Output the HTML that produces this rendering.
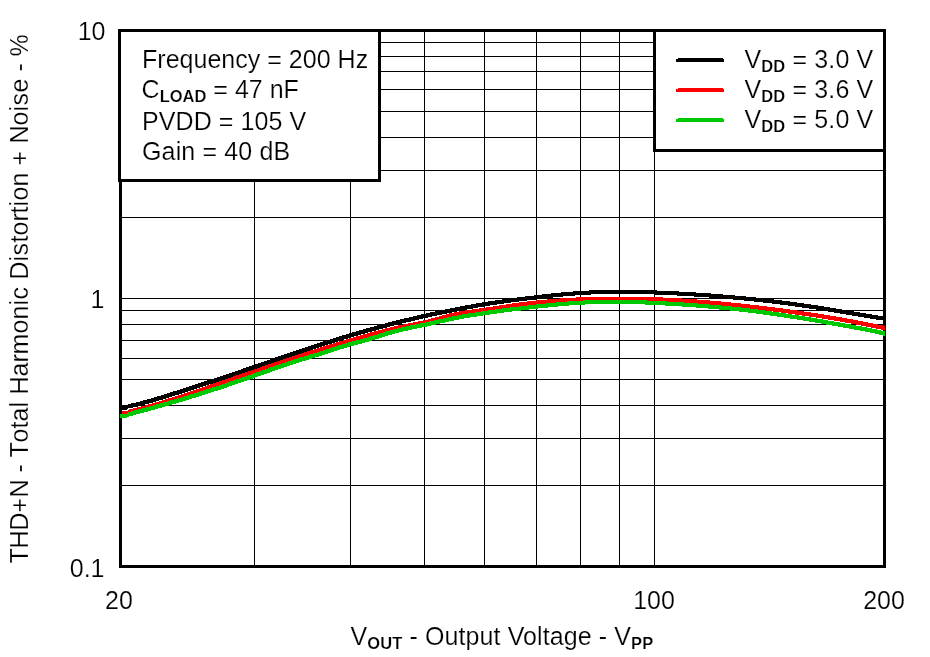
<!DOCTYPE html>
<html lang="en">
<head>
<meta charset="utf-8">
<title>THD+N vs Output Voltage</title>
<style>
html,body{margin:0;padding:0;background:#fff;}
body{width:930px;height:657px;overflow:hidden;}
svg{display:block;}
text{font-family:"Liberation Sans",Arial,Helvetica,sans-serif;font-size:25px;fill:#000;stroke:#fff;stroke-width:0.2px;}
.sub{font-weight:bold;font-size:16.5px;}
</style>
</head>
<body>
<svg width="930" height="657" viewBox="0 0 930 657">
<rect x="0" y="0" width="930" height="657" fill="#fff"/>
<g fill="#000" shape-rendering="crispEdges">
<rect x="254" y="31" width="1" height="535"/>
<rect x="350" y="31" width="1" height="535"/>
<rect x="424" y="31" width="1" height="535"/>
<rect x="484" y="31" width="1" height="535"/>
<rect x="536" y="31" width="1" height="535"/>
<rect x="580" y="31" width="1" height="535"/>
<rect x="619" y="31" width="1" height="535"/>
<rect x="654" y="31" width="1" height="535"/>
<rect x="121" y="42" width="763" height="1"/>
<rect x="121" y="56" width="763" height="1"/>
<rect x="121" y="71" width="763" height="1"/>
<rect x="121" y="89" width="763" height="1"/>
<rect x="121" y="111" width="763" height="1"/>
<rect x="121" y="137" width="763" height="1"/>
<rect x="121" y="170" width="763" height="1"/>
<rect x="121" y="217" width="763" height="1"/>
<rect x="121" y="298" width="763" height="1"/>
<rect x="121" y="310" width="763" height="1"/>
<rect x="121" y="324" width="763" height="1"/>
<rect x="121" y="340" width="763" height="1"/>
<rect x="121" y="358" width="763" height="1"/>
<rect x="121" y="379" width="763" height="1"/>
<rect x="121" y="405" width="763" height="1"/>
<rect x="121" y="438" width="763" height="1"/>
<rect x="121" y="485" width="763" height="1"/>
</g>
<rect x="120.5" y="30.5" width="764" height="536" fill="none" stroke="#000" stroke-width="3" shape-rendering="crispEdges"/>
<g stroke="none" shape-rendering="crispEdges">
<polygon fill="#000" points="120,404.93 121,404.93 122,404.93 123,404.93 124,404.93 125,404.93 126,404.93 127,404.93 128,404.17 129,403.97 130,403.76 131,403.54 132,403.32 133,403.10 134,402.87 135,402.64 136,402.40 137,402.16 138,401.92 139,401.67 140,401.41 141,401.16 142,400.90 143,400.63 144,400.37 145,400.10 146,399.82 147,399.55 148,399.27 149,398.99 150,398.70 151,398.41 152,398.12 153,397.83 154,397.54 155,397.24 156,396.94 157,396.64 158,396.34 159,396.03 160,395.73 161,395.42 162,395.11 163,394.80 164,394.48 165,394.17 166,393.86 167,393.54 168,393.22 169,392.91 170,392.59 171,392.27 172,391.95 173,391.63 174,391.31 175,390.99 176,390.67 177,390.35 178,390.03 179,389.71 180,389.39 181,389.07 182,388.75 183,388.43 184,388.11 185,387.79 186,387.46 187,387.14 188,386.82 189,386.50 190,386.18 191,385.85 192,385.53 193,385.21 194,384.89 195,384.56 196,384.24 197,383.92 198,383.59 199,383.27 200,382.94 201,382.62 202,382.29 203,381.97 204,381.64 205,381.32 206,380.99 207,380.66 208,380.34 209,380.01 210,379.68 211,379.35 212,379.03 213,378.70 214,378.37 215,378.04 216,377.71 217,377.38 218,377.05 219,376.72 220,376.39 221,376.06 222,375.72 223,375.39 224,375.06 225,374.73 226,374.39 227,374.06 228,373.72 229,373.39 230,373.05 231,372.72 232,372.38 233,372.05 234,371.71 235,371.37 236,371.03 237,370.69 238,370.35 239,370.02 240,369.68 241,369.34 242,368.99 243,368.65 244,368.31 245,367.97 246,367.63 247,367.29 248,366.94 249,366.60 250,366.26 251,365.92 252,365.57 253,365.23 254,364.89 255,364.54 256,364.20 257,363.85 258,363.51 259,363.17 260,362.82 261,362.48 262,362.13 263,361.79 264,361.44 265,361.10 266,360.75 267,360.41 268,360.06 269,359.72 270,359.37 271,359.03 272,358.69 273,358.34 274,358.00 275,357.65 276,357.31 277,356.97 278,356.62 279,356.28 280,355.94 281,355.59 282,355.25 283,354.91 284,354.57 285,354.22 286,353.88 287,353.54 288,353.20 289,352.86 290,352.52 291,352.18 292,351.84 293,351.50 294,351.16 295,350.82 296,350.49 297,350.15 298,349.81 299,349.48 300,349.14 301,348.80 302,348.47 303,348.13 304,347.80 305,347.47 306,347.13 307,346.80 308,346.47 309,346.14 310,345.81 311,345.48 312,345.15 313,344.82 314,344.50 315,344.17 316,343.84 317,343.52 318,343.19 319,342.87 320,342.55 321,342.23 322,341.90 323,341.58 324,341.26 325,340.94 326,340.63 327,340.31 328,339.99 329,339.68 330,339.36 331,339.05 332,338.73 333,338.42 334,338.11 335,337.80 336,337.49 337,337.18 338,336.87 339,336.57 340,336.26 341,335.95 342,335.65 343,335.34 344,335.04 345,334.74 346,334.44 347,334.14 348,333.84 349,333.54 350,333.24 351,332.94 352,332.65 353,332.35 354,332.06 355,331.77 356,331.47 357,331.18 358,330.89 359,330.60 360,330.31 361,330.03 362,329.74 363,329.45 364,329.17 365,328.89 366,328.60 367,328.32 368,328.04 369,327.76 370,327.48 371,327.20 372,326.93 373,326.65 374,326.38 375,326.10 376,325.83 377,325.56 378,325.28 379,325.01 380,324.75 381,324.48 382,324.21 383,323.94 384,323.68 385,323.42 386,323.15 387,322.89 388,322.63 389,322.37 390,322.11 391,321.85 392,321.60 393,321.34 394,321.09 395,320.84 396,320.58 397,320.33 398,320.08 399,319.83 400,319.58 401,319.34 402,319.09 403,318.85 404,318.60 405,318.36 406,318.12 407,317.88 408,317.64 409,317.40 410,317.16 411,316.93 412,316.69 413,316.45 414,316.22 415,315.99 416,315.76 417,315.53 418,315.30 419,315.07 420,314.84 421,314.61 422,314.39 423,314.16 424,313.94 425,313.71 426,313.49 427,313.27 428,313.05 429,312.83 430,312.61 431,312.39 432,312.18 433,311.96 434,311.75 435,311.53 436,311.32 437,311.11 438,310.89 439,310.68 440,310.47 441,310.26 442,310.06 443,309.85 444,309.64 445,309.44 446,309.23 447,309.03 448,308.82 449,308.62 450,308.42 451,308.22 452,308.02 453,307.82 454,307.62 455,307.43 456,307.23 457,307.03 458,306.84 459,306.65 460,306.46 461,306.27 462,306.08 463,305.89 464,305.70 465,305.51 466,305.33 467,305.14 468,304.96 469,304.78 470,304.60 471,304.42 472,304.24 473,304.06 474,303.89 475,303.71 476,303.54 477,303.37 478,303.20 479,303.03 480,302.86 481,302.69 482,302.53 483,302.37 484,302.20 485,302.04 486,301.88 487,301.73 488,301.57 489,301.41 490,301.26 491,301.11 492,300.96 493,300.81 494,300.66 495,300.51 496,300.36 497,300.22 498,300.07 499,299.93 500,299.79 501,299.65 502,299.51 503,299.37 504,299.23 505,299.10 506,298.96 507,298.83 508,298.69 509,298.56 510,298.43 511,298.29 512,298.16 513,298.03 514,297.91 515,297.78 516,297.65 517,297.52 518,297.40 519,297.27 520,297.15 521,297.02 522,296.90 523,296.78 524,296.66 525,296.53 526,296.41 527,296.29 528,296.17 529,296.05 530,295.93 531,295.82 532,295.70 533,295.58 534,295.46 535,295.34 536,295.23 537,295.11 538,295.00 539,294.88 540,294.76 541,294.65 542,294.54 543,294.42 544,294.31 545,294.20 546,294.09 547,293.97 548,293.86 549,293.76 550,293.65 551,293.54 552,293.43 553,293.33 554,293.22 555,293.12 556,293.02 557,292.92 558,292.82 559,292.72 560,292.62 561,292.53 562,292.43 563,292.34 564,292.25 565,292.16 566,292.07 567,291.98 568,291.90 569,291.81 570,291.73 571,291.65 572,291.57 573,291.49 574,291.42 575,291.35 576,291.27 577,291.21 578,291.14 579,291.07 580,291.01 581,290.95 582,290.89 583,290.83 584,290.77 585,290.72 586,290.66 587,290.61 588,290.56 589,290.51 590,290.47 591,290.42 592,290.38 593,290.34 594,290.30 595,290.26 596,290.23 597,290.19 598,290.16 599,290.13 600,290.10 601,290.07 602,290.04 603,290.02 604,289.99 605,289.97 606,289.95 607,289.93 608,289.91 609,289.90 610,289.88 611,289.87 612,289.86 613,289.84 614,289.84 615,289.83 616,289.82 617,289.82 618,289.81 619,289.81 620,289.81 621,289.81 622,289.81 623,289.81 624,289.81 625,289.81 626,289.82 627,289.82 628,289.83 629,289.84 630,289.84 631,289.85 632,289.87 633,289.88 634,289.89 635,289.91 636,289.92 637,289.94 638,289.96 639,289.98 640,290.00 641,290.02 642,290.04 643,290.06 644,290.09 645,290.11 646,290.14 647,290.17 648,290.20 649,290.23 650,290.26 651,290.29 652,290.32 653,290.36 654,290.39 655,290.43 656,290.46 657,290.50 658,290.54 659,290.57 660,290.61 661,290.65 662,290.70 663,290.74 664,290.78 665,290.82 666,290.87 667,290.91 668,290.96 669,291.01 670,291.05 671,291.10 672,291.15 673,291.20 674,291.25 675,291.30 676,291.35 677,291.41 678,291.46 679,291.51 680,291.57 681,291.62 682,291.68 683,291.73 684,291.79 685,291.84 686,291.90 687,291.96 688,292.02 689,292.08 690,292.14 691,292.20 692,292.26 693,292.32 694,292.38 695,292.45 696,292.51 697,292.57 698,292.64 699,292.70 700,292.77 701,292.84 702,292.90 703,292.97 704,293.04 705,293.11 706,293.18 707,293.25 708,293.32 709,293.39 710,293.46 711,293.54 712,293.61 713,293.69 714,293.76 715,293.84 716,293.91 717,293.99 718,294.07 719,294.14 720,294.22 721,294.30 722,294.38 723,294.46 724,294.55 725,294.63 726,294.71 727,294.79 728,294.88 729,294.96 730,295.05 731,295.14 732,295.22 733,295.31 734,295.40 735,295.49 736,295.58 737,295.67 738,295.76 739,295.85 740,295.94 741,296.04 742,296.13 743,296.23 744,296.32 745,296.42 746,296.51 747,296.61 748,296.71 749,296.81 750,296.91 751,297.01 752,297.11 753,297.21 754,297.32 755,297.42 756,297.52 757,297.63 758,297.74 759,297.84 760,297.95 761,298.06 762,298.17 763,298.28 764,298.39 765,298.50 766,298.61 767,298.72 768,298.84 769,298.95 770,299.07 771,299.18 772,299.30 773,299.42 774,299.53 775,299.65 776,299.77 777,299.89 778,300.01 779,300.14 780,300.26 781,300.38 782,300.51 783,300.63 784,300.76 785,300.89 786,301.01 787,301.14 788,301.27 789,301.40 790,301.53 791,301.66 792,301.80 793,301.93 794,302.07 795,302.20 796,302.34 797,302.47 798,302.61 799,302.75 800,302.89 801,303.03 802,303.17 803,303.31 804,303.45 805,303.60 806,303.74 807,303.88 808,304.03 809,304.18 810,304.32 811,304.47 812,304.62 813,304.77 814,304.92 815,305.07 816,305.23 817,305.38 818,305.53 819,305.69 820,305.84 821,306.00 822,306.16 823,306.32 824,306.48 825,306.64 826,306.80 827,306.96 828,307.12 829,307.29 830,307.45 831,307.62 832,307.78 833,307.95 834,308.12 835,308.29 836,308.45 837,308.62 838,308.79 839,308.96 840,309.13 841,309.31 842,309.48 843,309.65 844,309.82 845,309.99 846,310.17 847,310.34 848,310.51 849,310.68 850,310.86 851,311.03 852,311.20 853,311.37 854,311.54 855,311.72 856,311.89 857,312.06 858,312.23 859,312.40 860,312.57 861,312.74 862,312.91 863,313.07 864,313.24 865,313.41 866,313.57 867,313.74 868,313.90 869,314.07 870,314.23 871,314.39 872,314.55 873,314.71 874,314.87 875,315.03 876,315.18 877,315.34 878,315.49 879,315.64 880,315.79 881,315.94 882,316.09 883,316.24 884,316.38 885,316.52 885,320.80 884,320.67 883,320.52 882,320.38 881,320.24 880,320.09 879,319.94 878,319.79 877,319.64 876,319.49 875,319.34 874,319.18 873,319.03 872,318.87 871,318.71 870,318.55 869,318.39 868,318.23 867,318.07 866,317.90 865,317.74 864,317.57 863,317.41 862,317.24 861,317.07 860,316.91 859,316.74 858,316.57 857,316.40 856,316.23 855,316.06 854,315.89 853,315.72 852,315.54 851,315.37 850,315.20 849,315.03 848,314.86 847,314.68 846,314.51 845,314.34 844,314.17 843,313.99 842,313.82 841,313.65 840,313.48 839,313.31 838,313.13 837,312.96 836,312.79 835,312.62 834,312.45 833,312.29 832,312.12 831,311.95 830,311.78 829,311.62 828,311.45 827,311.29 826,311.12 825,310.96 824,310.80 823,310.64 822,310.48 821,310.32 820,310.16 819,310.00 818,309.84 817,309.69 816,309.53 815,309.38 814,309.23 813,309.07 812,308.92 811,308.77 810,308.62 809,308.47 808,308.32 807,308.18 806,308.03 805,307.88 804,307.74 803,307.60 802,307.45 801,307.31 800,307.17 799,307.03 798,306.89 797,306.75 796,306.61 795,306.47 794,306.34 793,306.20 792,306.07 791,305.93 790,305.80 789,305.66 788,305.53 787,305.40 786,305.27 785,305.14 784,305.01 783,304.89 782,304.76 781,304.63 780,304.51 779,304.38 778,304.26 777,304.14 776,304.01 775,303.89 774,303.77 773,303.65 772,303.53 771,303.42 770,303.30 769,303.18 768,303.07 767,302.95 766,302.84 765,302.72 764,302.61 763,302.50 762,302.39 761,302.28 760,302.17 759,302.06 758,301.95 757,301.84 756,301.74 755,301.63 754,301.52 753,301.42 752,301.32 751,301.21 750,301.11 749,301.01 748,300.91 747,300.81 746,300.71 745,300.61 744,300.51 743,300.42 742,300.32 741,300.23 740,300.13 739,300.04 738,299.94 737,299.85 736,299.76 735,299.67 734,299.58 733,299.49 732,299.40 731,299.31 730,299.22 729,299.14 728,299.05 727,298.96 726,298.88 725,298.79 724,298.71 723,298.63 722,298.55 721,298.46 720,298.38 719,298.30 718,298.22 717,298.14 716,298.07 715,297.99 714,297.91 713,297.84 712,297.76 711,297.69 710,297.61 709,297.54 708,297.46 707,297.39 706,297.32 705,297.25 704,297.18 703,297.11 702,297.04 701,296.97 700,296.90 699,296.84 698,296.77 697,296.70 696,296.64 695,296.57 694,296.51 693,296.45 692,296.38 691,296.32 690,296.26 689,296.20 688,296.14 687,296.08 686,296.02 685,295.96 684,295.90 683,295.84 682,295.79 681,295.73 680,295.68 679,295.62 678,295.57 677,295.51 676,295.46 675,295.41 674,295.35 673,295.30 672,295.25 671,295.20 670,295.15 669,295.10 668,295.05 667,295.01 666,294.96 665,294.91 664,294.87 663,294.82 662,294.78 661,294.74 660,294.70 659,294.65 658,294.61 657,294.57 656,294.54 655,294.50 654,294.46 653,294.43 652,294.39 651,294.36 650,294.32 649,294.29 648,294.26 647,294.23 646,294.20 645,294.17 644,294.14 643,294.11 642,294.09 641,294.06 640,294.04 639,294.02 638,294.00 637,293.98 636,293.96 635,293.94 634,293.92 633,293.91 632,293.89 631,293.88 630,293.87 629,293.85 628,293.84 627,293.84 626,293.83 625,293.82 624,293.82 623,293.81 622,293.81 621,293.81 620,293.81 619,293.82 618,293.82 617,293.83 616,293.84 615,293.84 614,293.86 613,293.87 612,293.88 611,293.90 610,293.91 609,293.93 608,293.95 607,293.97 606,293.99 605,294.02 604,294.04 603,294.07 602,294.10 601,294.13 600,294.16 599,294.19 598,294.23 597,294.26 596,294.30 595,294.34 594,294.38 593,294.42 592,294.47 591,294.51 590,294.56 589,294.61 588,294.66 587,294.72 586,294.77 585,294.83 584,294.89 583,294.95 582,295.01 581,295.07 580,295.14 579,295.21 578,295.27 577,295.35 576,295.42 575,295.49 574,295.57 573,295.65 572,295.73 571,295.81 570,295.90 569,295.98 568,296.07 567,296.16 566,296.25 565,296.34 564,296.43 563,296.53 562,296.62 561,296.72 560,296.82 559,296.92 558,297.02 557,297.12 556,297.22 555,297.33 554,297.43 553,297.54 552,297.65 551,297.76 550,297.86 549,297.97 548,298.08 547,298.20 546,298.31 545,298.42 544,298.54 543,298.65 542,298.76 541,298.88 540,299.00 539,299.11 538,299.23 537,299.34 536,299.46 535,299.58 534,299.70 533,299.82 532,299.93 531,300.05 530,300.17 529,300.29 528,300.41 527,300.53 526,300.66 525,300.78 524,300.90 523,301.02 522,301.15 521,301.27 520,301.40 519,301.52 518,301.65 517,301.78 516,301.91 515,302.03 514,302.16 513,302.29 512,302.43 511,302.56 510,302.69 509,302.83 508,302.96 507,303.10 506,303.23 505,303.37 504,303.51 503,303.65 502,303.79 501,303.93 500,304.07 499,304.22 498,304.36 497,304.51 496,304.66 495,304.81 494,304.96 493,305.11 492,305.26 491,305.41 490,305.57 489,305.73 488,305.88 487,306.04 486,306.20 485,306.37 484,306.53 483,306.69 482,306.86 481,307.03 480,307.20 479,307.37 478,307.54 477,307.71 476,307.89 475,308.06 474,308.24 473,308.42 472,308.60 471,308.78 470,308.96 469,309.14 468,309.33 467,309.51 466,309.70 465,309.89 464,310.08 463,310.27 462,310.46 461,310.65 460,310.84 459,311.03 458,311.23 457,311.43 456,311.62 455,311.82 454,312.02 453,312.22 452,312.42 451,312.62 450,312.82 449,313.03 448,313.23 447,313.44 446,313.64 445,313.85 444,314.06 443,314.26 442,314.47 441,314.68 440,314.89 439,315.11 438,315.32 437,315.53 436,315.75 435,315.96 434,316.18 433,316.39 432,316.61 431,316.83 430,317.05 429,317.27 428,317.49 427,317.71 426,317.94 425,318.16 424,318.39 423,318.61 422,318.84 421,319.07 420,319.30 419,319.53 418,319.76 417,319.99 416,320.22 415,320.45 414,320.69 413,320.93 412,321.16 411,321.40 410,321.64 409,321.88 408,322.12 407,322.36 406,322.60 405,322.85 404,323.09 403,323.34 402,323.58 401,323.83 400,324.08 399,324.33 398,324.58 397,324.84 396,325.09 395,325.34 394,325.60 393,325.85 392,326.11 391,326.37 390,326.63 389,326.89 388,327.15 387,327.42 386,327.68 385,327.94 384,328.21 383,328.48 382,328.75 381,329.01 380,329.28 379,329.56 378,329.83 377,330.10 376,330.38 375,330.65 374,330.93 373,331.20 372,331.48 371,331.76 370,332.04 369,332.32 368,332.60 367,332.89 366,333.17 365,333.45 364,333.74 363,334.03 362,334.31 361,334.60 360,334.89 359,335.18 358,335.47 357,335.77 356,336.06 355,336.35 354,336.65 353,336.94 352,337.24 351,337.54 350,337.84 349,338.14 348,338.44 347,338.74 346,339.04 345,339.34 344,339.65 343,339.95 342,340.26 341,340.57 340,340.87 339,341.18 338,341.49 337,341.80 336,342.11 335,342.42 334,342.73 333,343.05 332,343.36 331,343.68 330,343.99 329,344.31 328,344.63 327,344.94 326,345.26 325,345.58 324,345.90 323,346.23 322,346.55 321,346.87 320,347.19 319,347.52 318,347.84 317,348.17 316,348.50 315,348.82 314,349.15 313,349.48 312,349.81 311,350.14 310,350.47 309,350.80 308,351.13 307,351.47 306,351.80 305,352.13 304,352.47 303,352.80 302,353.14 301,353.48 300,353.81 299,354.15 298,354.49 297,354.82 296,355.16 295,355.50 294,355.84 293,356.18 292,356.52 291,356.86 290,357.20 289,357.54 288,357.88 287,358.22 286,358.57 285,358.91 284,359.25 283,359.59 282,359.94 281,360.28 280,360.62 279,360.97 278,361.31 277,361.65 276,362.00 275,362.34 274,362.69 273,363.03 272,363.37 271,363.72 270,364.06 269,364.41 268,364.75 267,365.10 266,365.44 265,365.79 264,366.13 263,366.48 262,366.82 261,367.17 260,367.51 259,367.85 258,368.20 257,368.54 256,368.89 255,369.23 254,369.57 253,369.92 252,370.26 251,370.60 250,370.94 249,371.29 248,371.63 247,371.97 246,372.31 245,372.65 244,372.99 243,373.34 242,373.68 241,374.01 240,374.35 239,374.69 238,375.03 237,375.37 236,375.71 235,376.05 234,376.38 233,376.72 232,377.05 231,377.39 230,377.72 229,378.06 228,378.39 227,378.73 226,379.06 225,379.39 224,379.72 223,380.06 222,380.39 221,380.72 220,381.05 219,381.38 218,381.71 217,382.04 216,382.37 215,382.70 214,383.03 213,383.35 212,383.68 211,384.01 210,384.34 209,384.66 208,384.99 207,385.32 206,385.64 205,385.97 204,386.29 203,386.62 202,386.94 201,387.27 200,387.59 199,387.92 198,388.24 197,388.56 196,388.89 195,389.21 194,389.53 193,389.85 192,390.18 191,390.50 190,390.82 189,391.14 188,391.46 187,391.79 186,392.11 185,392.43 184,392.75 183,393.07 182,393.39 181,393.71 180,394.03 179,394.35 178,394.67 177,394.99 176,395.31 175,395.63 174,395.95 173,396.27 172,396.59 171,396.91 170,397.22 169,397.54 168,397.86 167,398.17 166,398.48 165,398.80 164,399.11 163,399.42 162,399.73 161,400.03 160,400.34 159,400.64 158,400.94 157,401.24 156,401.54 155,401.83 154,402.12 153,402.41 152,402.70 151,402.99 150,403.27 149,403.55 148,403.82 147,404.10 146,404.37 145,404.63 144,404.90 143,405.16 142,405.41 141,405.67 140,405.92 139,406.16 138,406.40 137,406.64 136,406.87 135,407.10 134,407.32 133,407.54 132,407.76 131,407.97 130,408.17 129,408.37 128,408.57 127,409.83 126,409.83 125,409.83 124,409.83 123,409.83 122,409.83 121,409.83 120,409.83"/>
<polygon fill="#f00" points="122,411.34 123,411.34 124,411.34 125,411.34 126,411.34 127,411.34 128,409.82 129,409.58 130,409.33 131,409.09 132,408.84 133,408.59 134,408.34 135,408.08 136,407.82 137,407.56 138,407.30 139,407.04 140,406.77 141,406.51 142,406.24 143,405.96 144,405.69 145,405.42 146,405.14 147,404.86 148,404.58 149,404.30 150,404.01 151,403.72 152,403.44 153,403.15 154,402.86 155,402.56 156,402.27 157,401.97 158,401.67 159,401.37 160,401.07 161,400.77 162,400.47 163,400.16 164,399.86 165,399.55 166,399.24 167,398.93 168,398.62 169,398.30 170,397.99 171,397.67 172,397.35 173,397.04 174,396.72 175,396.40 176,396.07 177,395.75 178,395.43 179,395.10 180,394.78 181,394.45 182,394.12 183,393.79 184,393.46 185,393.13 186,392.80 187,392.47 188,392.13 189,391.80 190,391.46 191,391.13 192,390.79 193,390.45 194,390.12 195,389.78 196,389.44 197,389.10 198,388.76 199,388.42 200,388.07 201,387.73 202,387.39 203,387.05 204,386.70 205,386.36 206,386.02 207,385.67 208,385.33 209,384.98 210,384.64 211,384.29 212,383.94 213,383.60 214,383.25 215,382.91 216,382.56 217,382.21 218,381.87 219,381.52 220,381.17 221,380.82 222,380.48 223,380.13 224,379.78 225,379.44 226,379.09 227,378.74 228,378.40 229,378.05 230,377.70 231,377.36 232,377.01 233,376.66 234,376.32 235,375.97 236,375.62 237,375.28 238,374.93 239,374.58 240,374.24 241,373.89 242,373.55 243,373.20 244,372.86 245,372.51 246,372.16 247,371.82 248,371.47 249,371.13 250,370.78 251,370.44 252,370.10 253,369.75 254,369.41 255,369.06 256,368.72 257,368.38 258,368.03 259,367.69 260,367.35 261,367.01 262,366.66 263,366.32 264,365.98 265,365.64 266,365.30 267,364.96 268,364.62 269,364.28 270,363.94 271,363.60 272,363.26 273,362.92 274,362.58 275,362.24 276,361.91 277,361.57 278,361.23 279,360.89 280,360.56 281,360.22 282,359.89 283,359.55 284,359.22 285,358.88 286,358.55 287,358.21 288,357.88 289,357.55 290,357.21 291,356.88 292,356.55 293,356.22 294,355.89 295,355.56 296,355.23 297,354.90 298,354.57 299,354.24 300,353.91 301,353.59 302,353.26 303,352.93 304,352.61 305,352.28 306,351.96 307,351.63 308,351.31 309,350.99 310,350.66 311,350.34 312,350.02 313,349.70 314,349.38 315,349.06 316,348.74 317,348.42 318,348.11 319,347.79 320,347.47 321,347.16 322,346.84 323,346.53 324,346.21 325,345.90 326,345.59 327,345.27 328,344.96 329,344.65 330,344.34 331,344.03 332,343.72 333,343.42 334,343.11 335,342.80 336,342.50 337,342.19 338,341.89 339,341.58 340,341.28 341,340.98 342,340.68 343,340.38 344,340.08 345,339.78 346,339.48 347,339.19 348,338.89 349,338.59 350,338.30 351,338.00 352,337.71 353,337.42 354,337.13 355,336.84 356,336.55 357,336.26 358,335.97 359,335.68 360,335.40 361,335.11 362,334.83 363,334.54 364,334.26 365,333.98 366,333.70 367,333.42 368,333.14 369,332.86 370,332.59 371,332.31 372,332.04 373,331.77 374,331.50 375,331.23 376,330.96 377,330.69 378,330.43 379,330.17 380,329.90 381,329.65 382,329.39 383,329.13 384,328.88 385,328.62 386,328.37 387,328.13 388,327.88 389,327.64 390,327.39 391,327.15 392,326.92 393,326.68 394,326.45 395,326.22 396,325.99 397,325.76 398,325.54 399,325.32 400,325.10 401,324.89 402,324.67 403,324.46 404,324.26 405,324.05 406,323.85 407,323.65 408,323.45 409,323.26 410,323.07 411,322.88 412,322.69 413,322.51 414,322.32 415,322.13 416,321.94 417,321.75 418,321.56 419,321.37 420,321.17 421,320.97 422,320.76 423,320.55 424,320.33 425,320.11 426,319.88 427,319.64 428,319.40 429,319.15 430,318.89 431,318.63 432,318.36 433,318.08 434,317.81 435,317.52 436,317.24 437,316.95 438,316.67 439,316.38 440,316.09 441,315.81 442,315.52 443,315.24 444,314.96 445,314.68 446,314.41 447,314.14 448,313.88 449,313.62 450,313.37 451,313.13 452,312.90 453,312.67 454,312.46 455,312.25 456,312.06 457,311.86 458,311.68 459,311.50 460,311.33 461,311.17 462,311.01 463,310.85 464,310.70 465,310.55 466,310.40 467,310.26 468,310.12 469,309.98 470,309.84 471,309.71 472,309.57 473,309.43 474,309.29 475,309.15 476,309.01 477,308.86 478,308.72 479,308.57 480,308.42 481,308.28 482,308.13 483,307.98 484,307.83 485,307.67 486,307.52 487,307.37 488,307.21 489,307.06 490,306.91 491,306.75 492,306.59 493,306.44 494,306.28 495,306.13 496,305.97 497,305.82 498,305.66 499,305.51 500,305.35 501,305.20 502,305.04 503,304.89 504,304.74 505,304.58 506,304.43 507,304.28 508,304.13 509,303.98 510,303.84 511,303.69 512,303.54 513,303.40 514,303.26 515,303.11 516,302.97 517,302.83 518,302.70 519,302.56 520,302.43 521,302.30 522,302.17 523,302.04 524,301.91 525,301.79 526,301.66 527,301.54 528,301.42 529,301.31 530,301.19 531,301.08 532,300.97 533,300.85 534,300.75 535,300.64 536,300.53 537,300.43 538,300.33 539,300.23 540,300.13 541,300.03 542,299.93 543,299.84 544,299.75 545,299.66 546,299.57 547,299.48 548,299.39 549,299.31 550,299.22 551,299.14 552,299.06 553,298.98 554,298.90 555,298.83 556,298.75 557,298.68 558,298.61 559,298.54 560,298.47 561,298.40 562,298.33 563,298.27 564,298.20 565,298.14 566,298.08 567,298.02 568,297.96 569,297.90 570,297.84 571,297.79 572,297.73 573,297.68 574,297.63 575,297.58 576,297.53 577,297.48 578,297.43 579,297.39 580,297.34 581,297.30 582,297.26 583,297.22 584,297.18 585,297.14 586,297.10 587,297.07 588,297.03 589,297.00 590,296.97 591,296.94 592,296.91 593,296.88 594,296.85 595,296.82 596,296.80 597,296.77 598,296.75 599,296.73 600,296.71 601,296.69 602,296.67 603,296.65 604,296.64 605,296.62 606,296.61 607,296.60 608,296.59 609,296.58 610,296.57 611,296.56 612,296.55 613,296.54 614,296.54 615,296.54 616,296.53 617,296.53 618,296.53 619,296.53 620,296.53 621,296.53 622,296.53 623,296.54 624,296.54 625,296.55 626,296.55 627,296.56 628,296.57 629,296.58 630,296.59 631,296.60 632,296.61 633,296.62 634,296.64 635,296.65 636,296.67 637,296.69 638,296.71 639,296.73 640,296.75 641,296.77 642,296.79 643,296.82 644,296.84 645,296.87 646,296.89 647,296.92 648,296.95 649,296.98 650,297.01 651,297.04 652,297.07 653,297.11 654,297.14 655,297.18 656,297.21 657,297.25 658,297.29 659,297.33 660,297.37 661,297.41 662,297.45 663,297.50 664,297.54 665,297.59 666,297.63 667,297.68 668,297.73 669,297.78 670,297.83 671,297.88 672,297.93 673,297.98 674,298.04 675,298.09 676,298.14 677,298.20 678,298.26 679,298.32 680,298.37 681,298.43 682,298.49 683,298.56 684,298.62 685,298.68 686,298.75 687,298.81 688,298.88 689,298.94 690,299.01 691,299.08 692,299.15 693,299.22 694,299.29 695,299.36 696,299.43 697,299.51 698,299.58 699,299.66 700,299.73 701,299.81 702,299.88 703,299.96 704,300.04 705,300.12 706,300.20 707,300.28 708,300.37 709,300.45 710,300.53 711,300.62 712,300.70 713,300.79 714,300.88 715,300.96 716,301.05 717,301.14 718,301.23 719,301.32 720,301.41 721,301.50 722,301.60 723,301.69 724,301.78 725,301.88 726,301.98 727,302.07 728,302.17 729,302.27 730,302.37 731,302.47 732,302.57 733,302.67 734,302.77 735,302.87 736,302.97 737,303.08 738,303.18 739,303.29 740,303.39 741,303.50 742,303.60 743,303.71 744,303.82 745,303.93 746,304.04 747,304.15 748,304.26 749,304.37 750,304.48 751,304.60 752,304.71 753,304.82 754,304.94 755,305.05 756,305.17 757,305.29 758,305.40 759,305.52 760,305.64 761,305.76 762,305.88 763,306.00 764,306.12 765,306.24 766,306.36 767,306.49 768,306.61 769,306.73 770,306.86 771,306.98 772,307.11 773,307.23 774,307.36 775,307.49 776,307.61 777,307.74 778,307.87 779,308.00 780,308.13 781,308.26 782,308.39 783,308.53 784,308.66 785,308.79 786,308.93 787,309.06 788,309.20 789,309.33 790,309.47 791,309.61 792,309.74 793,309.88 794,310.02 795,310.16 796,310.30 797,310.44 798,310.59 799,310.73 800,310.87 801,311.02 802,311.16 803,311.31 804,311.45 805,311.60 806,311.75 807,311.89 808,312.04 809,312.19 810,312.34 811,312.49 812,312.65 813,312.80 814,312.95 815,313.11 816,313.26 817,313.42 818,313.57 819,313.73 820,313.89 821,314.05 822,314.20 823,314.36 824,314.53 825,314.69 826,314.85 827,315.01 828,315.18 829,315.34 830,315.51 831,315.67 832,315.84 833,316.01 834,316.18 835,316.34 836,316.52 837,316.69 838,316.86 839,317.03 840,317.20 841,317.38 842,317.55 843,317.73 844,317.91 845,318.08 846,318.26 847,318.44 848,318.62 849,318.80 850,318.99 851,319.17 852,319.35 853,319.54 854,319.72 855,319.91 856,320.09 857,320.28 858,320.47 859,320.66 860,320.85 861,321.04 862,321.24 863,321.43 864,321.62 865,321.82 866,322.02 867,322.21 868,322.41 869,322.61 870,322.81 871,323.01 872,323.21 873,323.41 874,323.62 875,323.82 876,324.03 877,324.23 878,324.44 879,324.65 880,324.86 881,325.07 882,325.28 883,325.49 884,325.71 885,325.92 885,330.35 884,330.14 883,329.92 882,329.71 881,329.49 880,329.28 879,329.07 878,328.86 877,328.65 876,328.44 875,328.23 874,328.03 873,327.82 872,327.62 871,327.41 870,327.21 869,327.01 868,326.81 867,326.61 866,326.41 865,326.21 864,326.02 863,325.82 862,325.62 861,325.43 860,325.24 859,325.04 858,324.85 857,324.66 856,324.47 855,324.28 854,324.09 853,323.91 852,323.72 851,323.54 850,323.35 849,323.17 848,322.99 847,322.80 846,322.62 845,322.44 844,322.26 843,322.08 842,321.91 841,321.73 840,321.55 839,321.38 838,321.20 837,321.03 836,320.86 835,320.69 834,320.52 833,320.34 832,320.18 831,320.01 830,319.84 829,319.67 828,319.51 827,319.34 826,319.18 825,319.01 824,318.85 823,318.69 822,318.53 821,318.36 820,318.20 819,318.05 818,317.89 817,317.73 816,317.57 815,317.42 814,317.26 813,317.11 812,316.95 811,316.80 810,316.65 809,316.49 808,316.34 807,316.19 806,316.04 805,315.89 804,315.75 803,315.60 802,315.45 801,315.31 800,315.16 799,315.02 798,314.87 797,314.73 796,314.59 795,314.44 794,314.30 793,314.16 792,314.02 791,313.88 790,313.74 789,313.61 788,313.47 787,313.33 786,313.20 785,313.06 784,312.93 783,312.79 782,312.66 781,312.53 780,312.39 779,312.26 778,312.13 777,312.00 776,311.87 775,311.74 774,311.61 773,311.49 772,311.36 771,311.23 770,311.11 769,310.98 768,310.86 767,310.73 766,310.61 765,310.49 764,310.36 763,310.24 762,310.12 761,310.00 760,309.88 759,309.76 758,309.64 757,309.52 756,309.40 755,309.29 754,309.17 753,309.05 752,308.94 751,308.82 750,308.71 749,308.60 748,308.48 747,308.37 746,308.26 745,308.15 744,308.04 743,307.93 742,307.82 741,307.71 740,307.60 739,307.50 738,307.39 737,307.29 736,307.18 735,307.08 734,306.97 733,306.87 732,306.77 731,306.67 730,306.57 729,306.47 728,306.37 727,306.27 726,306.17 725,306.07 724,305.98 723,305.88 722,305.78 721,305.69 720,305.60 719,305.50 718,305.41 717,305.32 716,305.23 715,305.14 714,305.05 713,304.96 712,304.88 711,304.79 710,304.70 709,304.62 708,304.53 707,304.45 706,304.37 705,304.28 704,304.20 703,304.12 702,304.04 701,303.96 700,303.88 699,303.81 698,303.73 697,303.66 696,303.58 695,303.51 694,303.43 693,303.36 692,303.29 691,303.22 690,303.15 689,303.08 688,303.01 687,302.94 686,302.88 685,302.81 684,302.75 683,302.68 682,302.62 681,302.56 680,302.49 679,302.43 678,302.37 677,302.32 676,302.26 675,302.20 674,302.14 673,302.09 672,302.04 671,301.98 670,301.93 669,301.88 668,301.83 667,301.78 666,301.73 665,301.68 664,301.63 663,301.59 662,301.54 661,301.50 660,301.45 659,301.41 658,301.37 657,301.33 656,301.29 655,301.25 654,301.21 653,301.18 652,301.14 651,301.11 650,301.07 649,301.04 648,301.01 647,300.98 646,300.95 645,300.92 644,300.89 643,300.87 642,300.84 641,300.82 640,300.79 639,300.77 638,300.75 637,300.73 636,300.71 635,300.69 634,300.67 633,300.65 632,300.64 631,300.62 630,300.61 629,300.60 628,300.59 627,300.58 626,300.57 625,300.56 624,300.55 623,300.55 622,300.54 621,300.54 620,300.53 619,300.53 618,300.53 617,300.54 616,300.54 615,300.54 614,300.55 613,300.56 612,300.57 611,300.58 610,300.59 609,300.60 608,300.61 607,300.62 606,300.64 605,300.65 604,300.67 603,300.69 602,300.71 601,300.73 600,300.75 599,300.77 598,300.80 597,300.82 596,300.85 595,300.88 594,300.91 593,300.94 592,300.97 591,301.00 590,301.03 589,301.07 588,301.10 587,301.14 586,301.18 585,301.22 584,301.26 583,301.30 582,301.34 581,301.39 580,301.43 579,301.48 578,301.53 577,301.58 576,301.63 575,301.68 574,301.73 573,301.79 572,301.84 571,301.90 570,301.96 569,302.02 568,302.08 567,302.14 566,302.20 565,302.27 564,302.33 563,302.40 562,302.47 561,302.54 560,302.61 559,302.68 558,302.75 557,302.83 556,302.90 555,302.98 554,303.06 553,303.14 552,303.22 551,303.31 550,303.39 549,303.48 548,303.57 547,303.66 546,303.75 545,303.84 544,303.93 543,304.03 542,304.13 541,304.23 540,304.33 539,304.43 538,304.53 537,304.64 536,304.75 535,304.85 534,304.97 533,305.08 532,305.19 531,305.31 530,305.42 529,305.54 528,305.66 527,305.79 526,305.91 525,306.04 524,306.17 523,306.30 522,306.43 521,306.56 520,306.70 519,306.83 518,306.97 517,307.11 516,307.26 515,307.40 514,307.54 513,307.69 512,307.84 511,307.98 510,308.13 509,308.28 508,308.43 507,308.58 506,308.74 505,308.89 504,309.04 503,309.20 502,309.35 501,309.51 500,309.66 499,309.82 498,309.97 497,310.13 496,310.28 495,310.44 494,310.59 493,310.75 492,310.91 491,311.06 490,311.21 489,311.37 488,311.52 487,311.67 486,311.83 485,311.98 484,312.13 483,312.28 482,312.42 481,312.57 480,312.72 479,312.86 478,313.01 477,313.15 476,313.29 475,313.43 474,313.57 473,313.71 472,313.84 471,313.98 470,314.12 469,314.26 468,314.41 467,314.55 466,314.70 465,314.85 464,315.01 463,315.17 462,315.33 461,315.50 460,315.68 459,315.86 458,316.06 457,316.25 456,316.46 455,316.67 454,316.90 453,317.13 452,317.37 451,317.62 450,317.88 449,318.14 448,318.41 447,318.68 446,318.96 445,319.24 444,319.52 443,319.81 442,320.09 441,320.38 440,320.67 439,320.95 438,321.24 437,321.52 436,321.81 435,322.08 434,322.36 433,322.63 432,322.89 431,323.15 430,323.40 429,323.64 428,323.88 427,324.11 426,324.33 425,324.55 424,324.76 423,324.97 422,325.17 421,325.37 420,325.56 419,325.75 418,325.94 417,326.13 416,326.32 415,326.51 414,326.70 413,326.88 412,327.07 411,327.26 410,327.46 409,327.65 408,327.85 407,328.05 406,328.25 405,328.46 404,328.67 403,328.89 402,329.10 401,329.32 400,329.54 399,329.76 398,329.99 397,330.22 396,330.45 395,330.68 394,330.92 393,331.15 392,331.39 391,331.64 390,331.88 389,332.13 388,332.37 387,332.62 386,332.88 385,333.13 384,333.39 383,333.65 382,333.90 381,334.17 380,334.43 379,334.69 378,334.96 377,335.23 376,335.50 375,335.77 374,336.04 373,336.31 372,336.59 371,336.86 370,337.14 369,337.42 368,337.70 367,337.98 366,338.26 365,338.54 364,338.83 363,339.11 362,339.40 361,339.68 360,339.97 359,340.26 358,340.55 357,340.84 356,341.13 355,341.42 354,341.71 353,342.00 352,342.30 351,342.59 350,342.89 349,343.19 348,343.48 347,343.78 346,344.08 345,344.38 344,344.68 343,344.98 342,345.28 341,345.58 340,345.89 339,346.19 338,346.50 337,346.80 336,347.11 335,347.42 334,347.72 333,348.03 332,348.34 331,348.65 330,348.96 329,349.27 328,349.59 327,349.90 326,350.21 325,350.53 324,350.84 323,351.16 322,351.47 321,351.79 320,352.11 319,352.42 318,352.74 317,353.06 316,353.38 315,353.70 314,354.02 313,354.34 312,354.66 311,354.99 310,355.31 309,355.63 308,355.96 307,356.28 306,356.61 305,356.93 304,357.26 303,357.59 302,357.91 301,358.24 300,358.57 299,358.90 298,359.23 297,359.56 296,359.89 295,360.22 294,360.55 293,360.88 292,361.21 291,361.55 290,361.88 289,362.21 288,362.55 287,362.88 286,363.22 285,363.55 284,363.89 283,364.22 282,364.56 281,364.89 280,365.23 279,365.57 278,365.91 277,366.24 276,366.58 275,366.92 274,367.26 273,367.60 272,367.94 271,368.28 270,368.62 269,368.96 268,369.30 267,369.64 266,369.98 265,370.32 264,370.66 263,371.01 262,371.35 261,371.69 260,372.03 259,372.38 258,372.72 257,373.06 256,373.41 255,373.75 254,374.10 253,374.44 252,374.78 251,375.13 250,375.47 249,375.82 248,376.16 247,376.51 246,376.86 245,377.20 244,377.55 243,377.89 242,378.24 241,378.58 240,378.93 239,379.28 238,379.62 237,379.97 236,380.32 235,380.66 234,381.01 233,381.36 232,381.70 231,382.05 230,382.40 229,382.74 228,383.09 227,383.44 226,383.78 225,384.13 224,384.48 223,384.82 222,385.17 221,385.52 220,385.87 219,386.21 218,386.56 217,386.91 216,387.25 215,387.60 214,387.94 213,388.29 212,388.64 211,388.98 210,389.33 209,389.67 208,390.02 207,390.36 206,390.70 205,391.05 204,391.39 203,391.73 202,392.07 201,392.42 200,392.76 199,393.10 198,393.44 197,393.78 196,394.12 195,394.45 194,394.79 193,395.13 192,395.46 191,395.80 190,396.13 189,396.47 188,396.80 187,397.13 186,397.46 185,397.79 184,398.12 183,398.45 182,398.78 181,399.10 180,399.43 179,399.75 178,400.07 177,400.40 176,400.72 175,401.04 174,401.35 173,401.67 172,401.99 171,402.30 170,402.62 169,402.93 168,403.24 167,403.55 166,403.86 165,404.16 164,404.47 163,404.77 162,405.07 161,405.37 160,405.67 159,405.97 158,406.27 157,406.56 156,406.86 155,407.15 154,407.44 153,407.72 152,408.01 151,408.30 150,408.58 149,408.86 148,409.14 147,409.42 146,409.69 145,409.96 144,410.24 143,410.51 142,410.77 141,411.04 140,411.30 139,411.56 138,411.82 137,412.08 136,412.34 135,412.59 134,412.84 133,413.09 132,413.33 131,413.58 130,413.82 129,414.06 128,414.30 127,415.34 126,415.34 125,415.34 124,415.34 123,415.34 122,415.34"/>
<polygon fill="#00c800" points="120,413.85 121,413.85 122,413.85 123,413.85 124,413.85 125,413.85 126,413.85 127,413.85 128,412.18 129,411.92 130,411.66 131,411.40 132,411.14 133,410.87 134,410.61 135,410.35 136,410.08 137,409.81 138,409.55 139,409.28 140,409.01 141,408.74 142,408.47 143,408.20 144,407.93 145,407.66 146,407.39 147,407.11 148,406.84 149,406.56 150,406.29 151,406.01 152,405.73 153,405.46 154,405.18 155,404.90 156,404.62 157,404.34 158,404.06 159,403.77 160,403.49 161,403.21 162,402.92 163,402.63 164,402.35 165,402.06 166,401.77 167,401.48 168,401.19 169,400.90 170,400.61 171,400.32 172,400.03 173,399.74 174,399.44 175,399.15 176,398.85 177,398.55 178,398.26 179,397.96 180,397.66 181,397.36 182,397.06 183,396.76 184,396.45 185,396.15 186,395.85 187,395.54 188,395.24 189,394.93 190,394.62 191,394.32 192,394.01 193,393.70 194,393.39 195,393.08 196,392.76 197,392.45 198,392.14 199,391.82 200,391.51 201,391.19 202,390.87 203,390.56 204,390.24 205,389.92 206,389.60 207,389.28 208,388.95 209,388.63 210,388.31 211,387.98 212,387.66 213,387.33 214,387.00 215,386.68 216,386.35 217,386.02 218,385.69 219,385.36 220,385.02 221,384.69 222,384.36 223,384.02 224,383.69 225,383.35 226,383.01 227,382.67 228,382.34 229,382.00 230,381.65 231,381.31 232,380.97 233,380.63 234,380.28 235,379.94 236,379.59 237,379.24 238,378.90 239,378.55 240,378.20 241,377.85 242,377.50 243,377.15 244,376.80 245,376.45 246,376.10 247,375.75 248,375.39 249,375.04 250,374.69 251,374.34 252,373.98 253,373.63 254,373.28 255,372.92 256,372.57 257,372.22 258,371.86 259,371.51 260,371.16 261,370.80 262,370.45 263,370.10 264,369.75 265,369.39 266,369.04 267,368.69 268,368.34 269,367.99 270,367.64 271,367.29 272,366.95 273,366.60 274,366.25 275,365.90 276,365.56 277,365.21 278,364.87 279,364.53 280,364.19 281,363.85 282,363.51 283,363.17 284,362.83 285,362.49 286,362.16 287,361.82 288,361.49 289,361.16 290,360.83 291,360.50 292,360.17 293,359.84 294,359.52 295,359.19 296,358.87 297,358.55 298,358.23 299,357.92 300,357.60 301,357.29 302,356.98 303,356.67 304,356.36 305,356.05 306,355.75 307,355.44 308,355.14 309,354.84 310,354.54 311,354.24 312,353.94 313,353.64 314,353.33 315,353.03 316,352.72 317,352.41 318,352.10 319,351.78 320,351.47 321,351.15 322,350.83 323,350.50 324,350.18 325,349.85 326,349.53 327,349.20 328,348.87 329,348.54 330,348.22 331,347.89 332,347.56 333,347.23 334,346.91 335,346.58 336,346.26 337,345.94 338,345.62 339,345.30 340,344.99 341,344.68 342,344.37 343,344.06 344,343.76 345,343.46 346,343.17 347,342.88 348,342.59 349,342.31 350,342.04 351,341.76 352,341.50 353,341.23 354,340.97 355,340.71 356,340.45 357,340.18 358,339.92 359,339.66 360,339.39 361,339.13 362,338.85 363,338.58 364,338.30 365,338.01 366,337.72 367,337.43 368,337.13 369,336.83 370,336.53 371,336.23 372,335.92 373,335.61 374,335.30 375,334.99 376,334.68 377,334.37 378,334.06 379,333.75 380,333.44 381,333.13 382,332.82 383,332.51 384,332.20 385,331.90 386,331.60 387,331.30 388,331.00 389,330.71 390,330.42 391,330.14 392,329.86 393,329.58 394,329.31 395,329.04 396,328.78 397,328.53 398,328.28 399,328.03 400,327.79 401,327.55 402,327.32 403,327.09 404,326.86 405,326.64 406,326.41 407,326.20 408,325.98 409,325.77 410,325.56 411,325.35 412,325.14 413,324.93 414,324.72 415,324.52 416,324.31 417,324.11 418,323.90 419,323.70 420,323.49 421,323.29 422,323.08 423,322.87 424,322.66 425,322.45 426,322.24 427,322.02 428,321.81 429,321.59 430,321.37 431,321.14 432,320.92 433,320.69 434,320.46 435,320.23 436,320.01 437,319.78 438,319.55 439,319.32 440,319.09 441,318.86 442,318.63 443,318.41 444,318.18 445,317.96 446,317.74 447,317.52 448,317.30 449,317.08 450,316.87 451,316.66 452,316.46 453,316.26 454,316.06 455,315.86 456,315.67 457,315.48 458,315.30 459,315.11 460,314.93 461,314.75 462,314.58 463,314.41 464,314.23 465,314.06 466,313.90 467,313.73 468,313.56 469,313.40 470,313.24 471,313.08 472,312.92 473,312.76 474,312.60 475,312.44 476,312.28 477,312.12 478,311.97 479,311.81 480,311.65 481,311.50 482,311.35 483,311.19 484,311.04 485,310.89 486,310.75 487,310.60 488,310.45 489,310.31 490,310.17 491,310.02 492,309.88 493,309.74 494,309.61 495,309.47 496,309.33 497,309.20 498,309.06 499,308.93 500,308.80 501,308.67 502,308.54 503,308.41 504,308.28 505,308.15 506,308.02 507,307.90 508,307.77 509,307.65 510,307.53 511,307.40 512,307.28 513,307.16 514,307.04 515,306.92 516,306.80 517,306.68 518,306.57 519,306.45 520,306.33 521,306.22 522,306.10 523,305.99 524,305.87 525,305.76 526,305.65 527,305.53 528,305.42 529,305.31 530,305.20 531,305.09 532,304.98 533,304.87 534,304.76 535,304.65 536,304.54 537,304.43 538,304.32 539,304.21 540,304.10 541,303.99 542,303.89 543,303.78 544,303.67 545,303.57 546,303.47 547,303.36 548,303.26 549,303.16 550,303.06 551,302.96 552,302.86 553,302.76 554,302.66 555,302.57 556,302.47 557,302.38 558,302.28 559,302.19 560,302.10 561,302.02 562,301.93 563,301.84 564,301.76 565,301.68 566,301.60 567,301.52 568,301.44 569,301.36 570,301.29 571,301.22 572,301.15 573,301.08 574,301.01 575,300.95 576,300.89 577,300.83 578,300.77 579,300.71 580,300.66 581,300.60 582,300.55 583,300.50 584,300.46 585,300.41 586,300.37 587,300.33 588,300.29 589,300.25 590,300.21 591,300.18 592,300.15 593,300.12 594,300.09 595,300.06 596,300.03 597,300.01 598,299.99 599,299.97 600,299.95 601,299.93 602,299.91 603,299.90 604,299.89 605,299.87 606,299.86 607,299.86 608,299.85 609,299.84 610,299.84 611,299.84 612,299.84 613,299.84 614,299.84 615,299.84 616,299.84 617,299.84 618,299.85 619,299.86 620,299.86 621,299.87 622,299.88 623,299.89 624,299.91 625,299.92 626,299.94 627,299.95 628,299.97 629,299.99 630,300.01 631,300.03 632,300.06 633,300.08 634,300.11 635,300.13 636,300.16 637,300.19 638,300.22 639,300.25 640,300.28 641,300.31 642,300.35 643,300.38 644,300.42 645,300.46 646,300.49 647,300.53 648,300.57 649,300.61 650,300.65 651,300.70 652,300.74 653,300.79 654,300.83 655,300.88 656,300.92 657,300.97 658,301.02 659,301.07 660,301.12 661,301.17 662,301.22 663,301.28 664,301.33 665,301.38 666,301.44 667,301.49 668,301.55 669,301.60 670,301.66 671,301.72 672,301.78 673,301.84 674,301.90 675,301.96 676,302.02 677,302.08 678,302.14 679,302.20 680,302.27 681,302.33 682,302.39 683,302.46 684,302.53 685,302.59 686,302.66 687,302.73 688,302.80 689,302.86 690,302.93 691,303.01 692,303.08 693,303.15 694,303.22 695,303.29 696,303.37 697,303.44 698,303.52 699,303.60 700,303.67 701,303.75 702,303.83 703,303.91 704,303.99 705,304.07 706,304.15 707,304.23 708,304.31 709,304.40 710,304.48 711,304.57 712,304.65 713,304.74 714,304.83 715,304.92 716,305.01 717,305.10 718,305.19 719,305.28 720,305.37 721,305.47 722,305.56 723,305.66 724,305.75 725,305.85 726,305.95 727,306.04 728,306.14 729,306.24 730,306.34 731,306.45 732,306.55 733,306.65 734,306.76 735,306.86 736,306.97 737,307.08 738,307.18 739,307.29 740,307.40 741,307.51 742,307.63 743,307.74 744,307.85 745,307.97 746,308.08 747,308.20 748,308.32 749,308.44 750,308.56 751,308.68 752,308.80 753,308.92 754,309.04 755,309.17 756,309.29 757,309.42 758,309.55 759,309.67 760,309.80 761,309.93 762,310.07 763,310.20 764,310.33 765,310.47 766,310.60 767,310.74 768,310.88 769,311.01 770,311.15 771,311.29 772,311.43 773,311.58 774,311.72 775,311.86 776,312.01 777,312.15 778,312.30 779,312.45 780,312.59 781,312.74 782,312.89 783,313.04 784,313.19 785,313.34 786,313.50 787,313.65 788,313.80 789,313.96 790,314.11 791,314.27 792,314.43 793,314.59 794,314.74 795,314.90 796,315.06 797,315.22 798,315.38 799,315.54 800,315.71 801,315.87 802,316.03 803,316.20 804,316.36 805,316.52 806,316.69 807,316.86 808,317.02 809,317.19 810,317.36 811,317.52 812,317.69 813,317.86 814,318.03 815,318.20 816,318.37 817,318.54 818,318.71 819,318.88 820,319.05 821,319.23 822,319.40 823,319.57 824,319.74 825,319.92 826,320.09 827,320.26 828,320.44 829,320.61 830,320.79 831,320.96 832,321.14 833,321.31 834,321.49 835,321.67 836,321.84 837,322.02 838,322.20 839,322.37 840,322.55 841,322.73 842,322.91 843,323.08 844,323.26 845,323.44 846,323.62 847,323.80 848,323.98 849,324.16 850,324.34 851,324.52 852,324.71 853,324.89 854,325.07 855,325.25 856,325.43 857,325.62 858,325.80 859,325.99 860,326.17 861,326.35 862,326.54 863,326.73 864,326.91 865,327.10 866,327.28 867,327.47 868,327.66 869,327.85 870,328.04 871,328.23 872,328.42 873,328.62 874,328.82 875,329.03 876,329.24 877,329.46 878,329.69 879,329.93 880,330.17 881,330.43 882,330.69 883,330.97 884,331.25 885,331.55 885,336.19 884,335.86 883,335.55 882,335.25 881,334.97 880,334.69 879,334.43 878,334.17 877,333.93 876,333.69 875,333.47 874,333.25 873,333.03 872,332.82 871,332.62 870,332.42 869,332.23 868,332.04 867,331.85 866,331.66 865,331.47 864,331.28 863,331.10 862,330.91 861,330.73 860,330.54 859,330.35 858,330.17 857,329.99 856,329.80 855,329.62 854,329.43 853,329.25 852,329.07 851,328.89 850,328.71 849,328.52 848,328.34 847,328.16 846,327.98 845,327.80 844,327.62 843,327.44 842,327.26 841,327.08 840,326.91 839,326.73 838,326.55 837,326.37 836,326.20 835,326.02 834,325.84 833,325.67 832,325.49 831,325.31 830,325.14 829,324.96 828,324.79 827,324.61 826,324.44 825,324.26 824,324.09 823,323.92 822,323.74 821,323.57 820,323.40 819,323.23 818,323.05 817,322.88 816,322.71 815,322.54 814,322.37 813,322.20 812,322.03 811,321.86 810,321.69 809,321.52 808,321.36 807,321.19 806,321.02 805,320.86 804,320.69 803,320.52 802,320.36 801,320.20 800,320.03 799,319.87 798,319.71 797,319.54 796,319.38 795,319.22 794,319.06 793,318.90 792,318.74 791,318.59 790,318.43 789,318.27 788,318.11 787,317.96 786,317.80 785,317.65 784,317.50 783,317.34 782,317.19 781,317.04 780,316.89 779,316.74 778,316.59 777,316.45 776,316.30 775,316.15 774,316.01 773,315.86 772,315.72 771,315.58 770,315.43 769,315.29 768,315.15 767,315.01 766,314.88 765,314.74 764,314.60 763,314.47 762,314.33 761,314.20 760,314.07 759,313.93 758,313.80 757,313.67 756,313.55 755,313.42 754,313.29 753,313.17 752,313.04 751,312.92 750,312.80 749,312.68 748,312.56 747,312.44 746,312.32 745,312.20 744,312.08 743,311.97 742,311.85 741,311.74 740,311.63 739,311.51 738,311.40 737,311.29 736,311.18 735,311.08 734,310.97 733,310.86 732,310.76 731,310.65 730,310.55 729,310.45 728,310.34 727,310.24 726,310.14 725,310.04 724,309.95 723,309.85 722,309.75 721,309.66 720,309.56 719,309.47 718,309.37 717,309.28 716,309.19 715,309.10 714,309.01 713,308.92 712,308.83 711,308.74 710,308.65 709,308.57 708,308.48 707,308.40 706,308.31 705,308.23 704,308.15 703,308.07 702,307.99 701,307.91 700,307.83 699,307.75 698,307.67 697,307.60 696,307.52 695,307.44 694,307.37 693,307.29 692,307.22 691,307.15 690,307.08 689,307.01 688,306.93 687,306.86 686,306.80 685,306.73 684,306.66 683,306.59 682,306.53 681,306.46 680,306.39 679,306.33 678,306.27 677,306.20 676,306.14 675,306.08 674,306.02 673,305.96 672,305.90 671,305.84 670,305.78 669,305.72 668,305.66 667,305.60 666,305.55 665,305.49 664,305.44 663,305.38 662,305.33 661,305.28 660,305.22 659,305.17 658,305.12 657,305.07 656,305.02 655,304.97 654,304.92 653,304.88 652,304.83 651,304.79 650,304.74 649,304.70 648,304.65 647,304.61 646,304.57 645,304.53 644,304.49 643,304.46 642,304.42 641,304.38 640,304.35 639,304.31 638,304.28 637,304.25 636,304.22 635,304.19 634,304.16 633,304.13 632,304.11 631,304.08 630,304.06 629,304.03 628,304.01 627,303.99 626,303.97 625,303.95 624,303.94 623,303.92 622,303.91 621,303.89 620,303.88 619,303.87 618,303.86 617,303.86 616,303.85 615,303.84 614,303.84 613,303.84 612,303.84 611,303.84 610,303.85 609,303.86 608,303.86 607,303.87 606,303.89 605,303.90 604,303.91 603,303.93 602,303.95 601,303.97 600,303.99 599,304.01 598,304.03 597,304.06 596,304.09 595,304.12 594,304.15 593,304.18 592,304.21 591,304.25 590,304.29 589,304.33 588,304.37 587,304.41 586,304.46 585,304.50 584,304.55 583,304.60 582,304.66 581,304.71 580,304.77 579,304.83 578,304.89 577,304.95 576,305.01 575,305.08 574,305.15 573,305.22 572,305.29 571,305.36 570,305.44 569,305.52 568,305.60 567,305.68 566,305.76 565,305.84 564,305.93 563,306.02 562,306.10 561,306.19 560,306.28 559,306.38 558,306.47 557,306.57 556,306.66 555,306.76 554,306.86 553,306.96 552,307.06 551,307.16 550,307.26 549,307.36 548,307.47 547,307.57 546,307.67 545,307.78 544,307.89 543,307.99 542,308.10 541,308.21 540,308.32 539,308.43 538,308.54 537,308.65 536,308.76 535,308.87 534,308.98 533,309.09 532,309.20 531,309.31 530,309.42 529,309.53 528,309.65 527,309.76 526,309.87 525,309.99 524,310.10 523,310.22 522,310.33 521,310.45 520,310.57 519,310.68 518,310.80 517,310.92 516,311.04 515,311.16 514,311.28 513,311.40 512,311.53 511,311.65 510,311.77 509,311.90 508,312.02 507,312.15 506,312.28 505,312.41 504,312.54 503,312.67 502,312.80 501,312.93 500,313.06 499,313.20 498,313.33 497,313.47 496,313.61 495,313.74 494,313.88 493,314.03 492,314.17 491,314.31 490,314.45 489,314.60 488,314.75 487,314.89 486,315.04 485,315.19 484,315.35 483,315.50 482,315.65 481,315.81 480,315.97 479,316.12 478,316.28 477,316.44 476,316.60 475,316.76 474,316.92 473,317.08 472,317.24 471,317.40 470,317.57 469,317.73 468,317.90 467,318.06 466,318.23 465,318.41 464,318.58 463,318.75 462,318.93 461,319.11 460,319.30 459,319.48 458,319.67 457,319.86 456,320.06 455,320.26 454,320.46 453,320.66 452,320.87 451,321.08 450,321.30 449,321.52 448,321.74 447,321.96 446,322.18 445,322.41 444,322.63 443,322.86 442,323.09 441,323.32 440,323.55 439,323.78 438,324.00 437,324.23 436,324.46 435,324.69 434,324.92 433,325.14 432,325.37 431,325.59 430,325.81 429,326.02 428,326.24 427,326.45 426,326.66 425,326.87 424,327.08 423,327.29 422,327.49 421,327.70 420,327.90 419,328.11 418,328.31 417,328.52 416,328.72 415,328.93 414,329.14 413,329.35 412,329.56 411,329.77 410,329.98 409,330.20 408,330.41 407,330.64 406,330.86 405,331.09 404,331.32 403,331.55 402,331.79 401,332.03 400,332.28 399,332.53 398,332.78 397,333.04 396,333.31 395,333.58 394,333.86 393,334.14 392,334.42 391,334.71 390,335.00 389,335.30 388,335.60 387,335.90 386,336.20 385,336.51 384,336.82 383,337.13 382,337.44 381,337.75 380,338.06 379,338.37 378,338.68 377,338.99 376,339.30 375,339.61 374,339.92 373,340.23 372,340.53 371,340.83 370,341.13 369,341.43 368,341.72 367,342.01 366,342.30 365,342.58 364,342.85 363,343.13 362,343.39 361,343.66 360,343.92 359,344.19 358,344.45 357,344.71 356,344.97 355,345.23 354,345.50 353,345.77 352,346.04 351,346.31 350,346.59 349,346.88 348,347.17 347,347.46 346,347.76 345,348.06 344,348.37 343,348.68 342,348.99 341,349.30 340,349.62 339,349.94 338,350.26 337,350.58 336,350.91 335,351.23 334,351.56 333,351.89 332,352.22 331,352.54 330,352.87 329,353.20 328,353.53 327,353.85 326,354.18 325,354.50 324,354.83 323,355.15 322,355.47 321,355.78 320,356.10 319,356.41 318,356.72 317,357.03 316,357.33 315,357.64 314,357.94 313,358.24 312,358.54 311,358.84 310,359.14 309,359.44 308,359.75 307,360.05 306,360.36 305,360.67 304,360.98 303,361.29 302,361.60 301,361.92 300,362.23 299,362.55 298,362.87 297,363.19 296,363.52 295,363.84 294,364.17 293,364.50 292,364.83 291,365.16 290,365.49 289,365.82 288,366.16 287,366.49 286,366.83 285,367.17 284,367.51 283,367.85 282,368.19 281,368.53 280,368.87 279,369.21 278,369.56 277,369.90 276,370.25 275,370.60 274,370.95 273,371.29 272,371.64 271,371.99 270,372.34 269,372.69 268,373.04 267,373.39 266,373.75 265,374.10 264,374.45 263,374.80 262,375.16 261,375.51 260,375.86 259,376.22 258,376.57 257,376.92 256,377.28 255,377.63 254,377.98 253,378.34 252,378.69 251,379.04 250,379.39 249,379.75 248,380.10 247,380.45 246,380.80 245,381.15 244,381.50 243,381.85 242,382.20 241,382.55 240,382.90 239,383.24 238,383.59 237,383.94 236,384.28 235,384.63 234,384.97 233,385.31 232,385.65 231,386.00 230,386.34 229,386.67 228,387.01 227,387.35 226,387.69 225,388.02 224,388.36 223,388.69 222,389.02 221,389.36 220,389.69 219,390.02 218,390.35 217,390.68 216,391.00 215,391.33 214,391.66 213,391.98 212,392.31 211,392.63 210,392.95 209,393.28 208,393.60 207,393.92 206,394.24 205,394.56 204,394.87 203,395.19 202,395.51 201,395.82 200,396.14 199,396.45 198,396.76 197,397.08 196,397.39 195,397.70 194,398.01 193,398.32 192,398.62 191,398.93 190,399.24 189,399.54 188,399.85 187,400.15 186,400.45 185,400.76 184,401.06 183,401.36 182,401.66 181,401.96 180,402.26 179,402.55 178,402.85 177,403.15 176,403.44 175,403.74 174,404.03 173,404.32 172,404.61 171,404.90 170,405.19 169,405.48 168,405.77 167,406.06 166,406.35 165,406.63 164,406.92 163,407.21 162,407.49 161,407.77 160,408.06 159,408.34 158,408.62 157,408.90 156,409.18 155,409.46 154,409.73 153,410.01 152,410.29 151,410.56 150,410.84 149,411.11 148,411.39 147,411.66 146,411.93 145,412.20 144,412.47 143,412.74 142,413.01 141,413.28 140,413.55 139,413.81 138,414.08 137,414.35 136,414.61 135,414.87 134,415.14 133,415.40 132,415.66 131,415.92 130,416.18 129,416.44 128,416.70 127,417.85 126,417.85 125,417.85 124,417.85 123,417.85 122,417.85 121,417.85 120,417.85"/>
</g>
<rect x="119.5" y="30.5" width="260" height="150" fill="#fff" stroke="#000" stroke-width="3" shape-rendering="crispEdges"/>
<rect x="654.5" y="30.5" width="230" height="120" fill="#fff" stroke="#000" stroke-width="3" shape-rendering="crispEdges"/>
<g shape-rendering="crispEdges">
<path fill="#000" d="M678 58h45v1h1v3h-48v-3h2z"/>
<path fill="#f00" d="M678 88h45v1h1v3h-48v-3h2z"/>
<path fill="#00c800" d="M678 118h45v1h1v3h-48v-3h2z"/>
</g>
<text id="t1" x="142" y="67.5" style="letter-spacing:0.02px">Frequency = 200 Hz</text>
<text id="t2" x="141.6" y="98">C<tspan class="sub" dy="3.7">LOAD</tspan><tspan dy="-3.7"> = 47 nF</tspan></text>
<text id="t3" x="142" y="129.5" style="letter-spacing:0.08px">PVDD = 105 V</text>
<text id="t4" x="142" y="159.6" style="letter-spacing:0.14px">Gain = 40 dB</text>
<text id="l1" style="letter-spacing:0.15px" x="744.4" y="68.1">V<tspan class="sub" dy="4.3">DD</tspan><tspan dy="-4.3"> = 3.0 V</tspan></text>
<text id="l2" style="letter-spacing:0.15px" x="744.4" y="98.1">V<tspan class="sub" dy="4.3">DD</tspan><tspan dy="-4.3"> = 3.6 V</tspan></text>
<text id="l3" style="letter-spacing:0.15px" x="744.4" y="128.1">V<tspan class="sub" dy="4.3">DD</tspan><tspan dy="-4.3"> = 5.0 V</tspan></text>
<text id="y10" x="105.5" y="40" text-anchor="end">10</text>
<text id="y1" x="104.5" y="308" text-anchor="end">1</text>
<text id="y01" x="104.5" y="577.3" text-anchor="end">0.1</text>
<text id="x20" x="119" y="608.8" text-anchor="middle">20</text>
<text id="x100" x="654" y="608.8" text-anchor="middle">100</text>
<text id="x200" x="884" y="608.8" text-anchor="middle">200</text>
<text id="xt" x="350.5" y="644.5" style="letter-spacing:0.1px">V<tspan class="sub" dy="4.7">OUT</tspan><tspan dy="-4.7"> - Output Voltage - V</tspan><tspan class="sub" dy="4.7">PP</tspan></text>
<text id="yt" transform="translate(28,563.5) rotate(-90)" x="0 15 33 51 66 84 91 99 106 121 135 142 156 162 169 187 201 209 230 244 258 264 277 284 302 308 321 328 342 350 357 363 377 391 398 413 420 438 452 458 471 485 492 500 507" y="0">THD+N - Total Harmonic Distortion + Noise - %</text>
</svg>
</body>
</html>
